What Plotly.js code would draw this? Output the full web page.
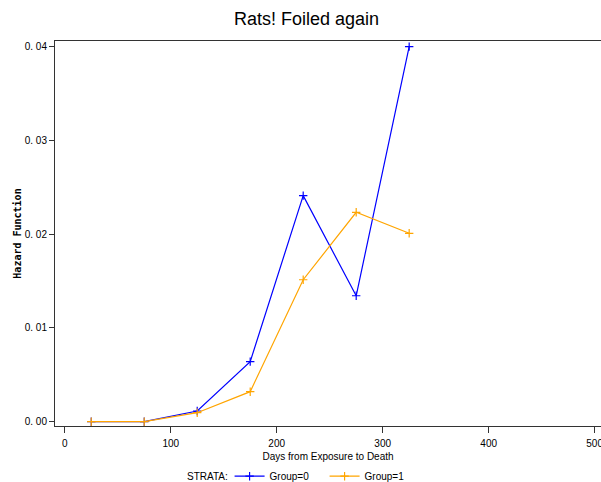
<!DOCTYPE html>
<html><head><meta charset="utf-8">
<script src="https://cdn.plot.ly/plotly-3.0.1.min.js"></script>
<style>html,body{margin:0;padding:0;background:#fff;}#chart{width:601px;height:482px;}</style>
</head><body><div id="chart"></div>
<script>
const days = [25, 75, 125, 175, 225, 275, 325];
const group0 = [0, 0, 0.00114, 0.00641, 0.02411, 0.01343, 0.04];
const group1 = [0, 0, 0.00096, 0.0032, 0.01514, 0.02233, 0.02009];
const seriesNames = ['Group=0', 'Group=1'];
const legendTitle = 'STRATA:';
const yTicks = [0, 0.01, 0.02, 0.03, 0.04];
const yTickText = ['0. 00', '0. 01', '0. 02', '0. 03', '0. 04'];
const xTicks = [0, 100, 200, 300, 400, 500];

function mk(y, name, color) {
  return {
    x: days, y: y, name: name, type: 'scatter', mode: 'lines+markers',
    line: {color: color, width: 1.2},
    marker: {symbol: 'cross-thin', size: 6, color: color, line: {color: color, width: 1.2}}
  };
}
const data = [mk(group0, seriesNames[0], '#0000ff'), mk(group1, seriesNames[1], '#ffa500')];
const layout = {
  width: 601, height: 482,
  margin: {l: 55, r: 0, t: 41, b: 56},
  paper_bgcolor: '#fff', plot_bgcolor: '#fff',
  font: {family: 'Liberation Sans, Arial, sans-serif', size: 10, color: '#000'},
  title: {text: 'Rats! Foiled again', font: {size: 18, family: 'Liberation Sans, Arial, sans-serif'}, x: 0.51, xanchor: 'center', y: 0.962, yanchor: 'middle'},
  xaxis: {
    range: [-9.2, 506], tickvals: xTicks, ticks: 'outside', ticklen: 6, tickcolor: '#333',
    showline: true, linecolor: '#333', linewidth: 1, mirror: true, showgrid: false, zeroline: false,
    tickfont: {size: 10}, ticklabeloverflow: 'allow', ticklabelstandoff: 2, automargin: false,
    title: {text: 'Days from Exposure to Death', font: {size: 10}}
  },
  yaxis: {
    range: [-0.00046, 0.0406], tickvals: yTicks, ticktext: yTickText, ticks: 'outside', ticklen: 5, tickcolor: '#333',
    showline: true, linecolor: '#333', linewidth: 1, showgrid: false, zeroline: false,
    tickfont: {size: 10}, automargin: false,
    title: {text: 'Hazard Function', font: {size: 10, family: 'DejaVu Sans Mono, monospace', weight: 'bold'}}
  },
  annotations: [{
    text: legendTitle, xref: 'paper', yref: 'paper', x: (230 - 55) / 546, xanchor: 'right',
    y: -(476 - 426) / 385, yanchor: 'middle', showarrow: false, font: {size: 10}
  }],
  showlegend: true,
  legend: {
    orientation: 'h', xref: 'container', yref: 'container', x: 0.382, xanchor: 'left', y: 0.012, yanchor: 'middle',
    font: {size: 10}, entrywidth: 50, entrywidthmode: 'pixels', tracegroupgap: 0, bgcolor: 'rgba(0,0,0,0)'
  }
};
Plotly.newPlot('chart', data, layout, {displayModeBar: false, staticPlot: true});
</script>
</body></html>
